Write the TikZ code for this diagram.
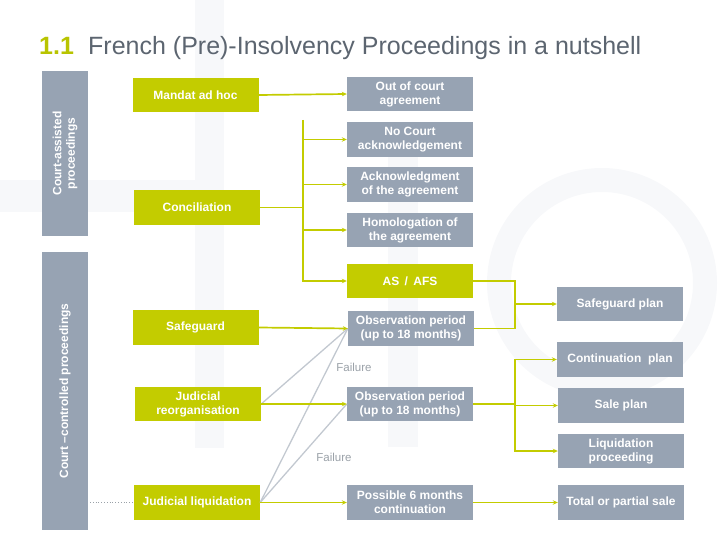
\documentclass[tikz,border=0pt]{standalone}
\usepackage{fontspec}
\setmainfont{Liberation Sans}
\usetikzlibrary{arrows.meta}
\definecolor{lime}{HTML}{C3CC00}
\definecolor{limetitle}{HTML}{B8C400}
\definecolor{slate}{HTML}{97A3B3}
\definecolor{titlegray}{HTML}{5C6570}
\definecolor{thin}{HTML}{C2C8D0}
\definecolor{failgray}{HTML}{9AA1A8}
\definecolor{wmark}{HTML}{F7F8FA}
\begin{document}
\begin{tikzpicture}[x=1pt,y=-1pt,
  box/.style={minimum width=126pt, minimum height=34.5pt, inner sep=1pt, align=center, text=white,
              font=\fontsize{12}{14}\selectfont\bfseries},
  gbox/.style={box, fill=lime},
  sbox/.style={box, fill=slate},
  bar/.style={fill=slate, rotate=90, minimum height=46pt, inner sep=1pt, align=center, text=white,
              font=\fontsize{12}{13.5}\selectfont\bfseries},
  link/.style={draw=lime, line width=1.7pt},
  conn/.style={link, -{Stealth[length=5pt,width=4.5pt]}},
  grayline/.style={draw=thin, line width=1.3pt},
  faillabel/.style={text=failgray, font=\fontsize{11.5}{12}\selectfont}]
\useasboundingbox (0,0) rectangle (720,540);
% faint watermark
\fill[wmark] (195,0) rectangle (224,448);
\fill[wmark] (0,180) rectangle (195,212);
\fill[wmark] (388,150) rectangle (418,447);
\draw[wmark, line width=24pt] (602,283) circle[radius=103];
% title
\node[anchor=base west, inner sep=0, text=limetitle, font=\fontsize{25}{28}\selectfont\bfseries] (num) at (39,55) {1.1};
\node[anchor=base west, inner sep=0, text=titlegray, font=\fontsize{25}{28}\selectfont] (title) at (88,55) {French (Pre)-Insolvency Proceedings in a nutshell};
% side bars
\node[bar, minimum width=165pt] (bar1) at (65,153.5) {Court-assisted\\proceedings};
\node[bar, minimum width=278pt] (bar2) at (65,391) {Court --controlled proceedings};
% green boxes
\node[gbox] (mandat) at (195.5,95) {Mandat ad hoc};
\node[gbox] (concil) at (197,207.5) {Conciliation};
\node[gbox] (safeg) at (195.5,327.5) {Safeguard};
\node[gbox] (reorg) at (198,404) {Judicial\\reorganisation};
\node[gbox] (liq) at (197,502.5) {Judicial liquidation};
\node[gbox] (asafs) at (410,281) {AS \,/\, AFS};
% gray boxes
\node[sbox] (ooc) at (410,94) {Out of court\\agreement};
\node[sbox] (nocourt) at (410,139.5) {No Court\\acknowledgement};
\node[sbox] (ack) at (410,184.5) {Acknowledgment\\of the agreement};
\node[sbox] (homol) at (410,230) {Homologation of\\the agreement};
\node[sbox] (obs1) at (411,328.5) {Observation period\\(up to 18 months)};
\node[sbox] (obs2) at (410,404) {Observation period\\(up to 18 months)};
\node[sbox] (poss) at (410,502.5) {Possible 6 months\\continuation};
\node[sbox] (sgplan) at (620,304) {Safeguard plan};
\node[sbox] (contplan) at (620,359.5) {Continuation\ \ plan};
\node[sbox] (saleplan) at (621,405.5) {Sale plan};
\node[sbox] (liqproc) at (621,451) {Liquidation\\proceeding};
\node[sbox] (total) at (621,502.5) {Total or partial sale};
% failure labels
\node[faillabel] (fail1) at (354,367) {Failure};
\node[faillabel] (fail2) at (334,457) {Failure};
% gray connectors
\draw[grayline] (reorg.east) -- (obs1.west);
\draw[grayline] (liq.east) -- (obs1.west);
\draw[grayline] (liq.east) -- (obs2.west);
% green connectors
\draw[conn] (mandat.east) -- (ooc.west);
\coordinate (cj) at (303,207.5);
\draw[link] (concil.east) -- (cj);
\draw[link] (303,120) -- (303,282);
\draw[conn] (cj) |- (nocourt.west);
\draw[conn] (cj) |- (ack.west);
\draw[conn] (cj) |- (homol.west);
\draw[conn] (cj) |- (asafs.west);
\draw[conn] (safeg.east) -- (obs1.west);
\draw[conn] (reorg.east) -- (obs2.west);
\draw[conn] (liq.east) -- (poss.west);
\coordinate (sj) at (515,304);
\draw[link] (asafs.east) -| (sj);
\draw[link] (obs1.east) -| (sj);
\draw[conn] (sj) -- (sgplan.west);
\coordinate (oj) at (515,404);
\draw[link] (obs2.east) -- (oj);
\draw[conn] (oj) |- (contplan.west);
\draw[conn] (oj) |- (saleplan.west);
\draw[conn] (oj) |- (liqproc.west);
\draw[conn] (poss.east) -- (total.west);
% dotted
\coordinate (dotstart) at (90,502.5);
\draw[dotted, draw=failgray, line width=0.8pt] (dotstart) -- (liq.west);
\end{tikzpicture}
\end{document}
